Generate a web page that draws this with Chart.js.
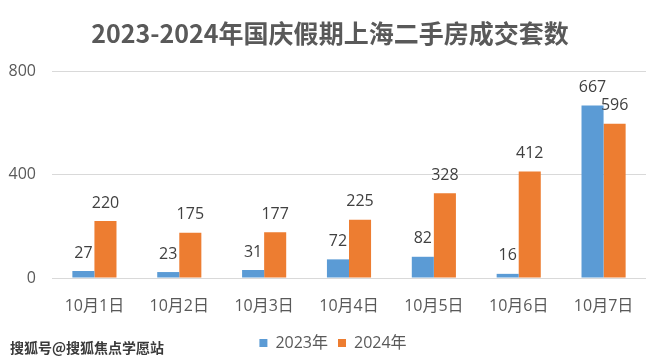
<!DOCTYPE html>
<html lang="zh-CN">
<head>
<meta charset="UTF-8">
<script src="https://cdn.jsdelivr.net/npm/chart.js@4/dist/chart.umd.min.js"></script>
<title>2023-2024年国庆假期上海二手房成交套数</title>
<style>
  html, body { margin: 0; padding: 0; background: #fff; }
  #wrap { position: relative; width: 660px; height: 361px; }
  #wm {
    position: absolute; left: 10px; top: 337px;
    font: bold 14px "Noto Sans CJK SC", sans-serif;
    color: #3a3a3a;
    text-shadow: 0 0 2px #fff, 0 0 2px #fff;
  }
</style>
</head>
<body>
<div id="wrap">
  <canvas id="myChart" width="660" height="361"></canvas>
  <div id="wm">搜狐号@搜狐焦点学愿站</div>
</div>
<script>
var days = ["10月1日", "10月2日", "10月3日", "10月4日", "10月5日", "10月6日", "10月7日"];
var y2023 = [27, 23, 31, 72, 82, 16, 667];
var y2024 = [220, 175, 177, 225, 328, 412, 596];
var yTicks = [0, 400, 800];

var fontFam = '"Open Sans", "Noto Sans CJK SC", sans-serif';

// values above the bars
var barLabels = {
  id: 'barLabels',
  afterLayout: function(chart) {
    // legend and title sit a bit right of centre in the original
    chart.legend.left += 10;
    chart.legend.right += 10;
    chart.titleBlock.left += 7;
    chart.titleBlock.right += 7;
  },
  afterDatasetsDraw: function(chart) {
    var ctx = chart.ctx;
    ctx.save();
    ctx.font = '16px ' + fontFam;
    ctx.fillStyle = '#404040';
    ctx.textAlign = 'center';
    ctx.textBaseline = 'middle';
    chart.data.datasets.forEach(function(ds, i) {
      var meta = chart.getDatasetMeta(i);
      meta.data.forEach(function(bar, j) {
        ctx.fillText(ds.data[j], bar.x, bar.y - 18);
      });
    });
    ctx.restore();
  }
};

var ctx = document.getElementById("myChart").getContext('2d');
var myChart = new Chart(ctx, {
  type: 'bar',
  data: {
    labels: days,
    datasets: [{
      label: '2023年',
      data: y2023,
      backgroundColor: '#5B9BD5'
    }, {
      label: '2024年',
      data: y2024,
      backgroundColor: '#ED7D31'
    }]
  },
  options: {
    responsive: false,
    animation: false,
    layout: { padding: { left: 0, right: 14, bottom: 0 } },
    datasets: { bar: { categoryPercentage: 0.52, barPercentage: 1.0 } },
    scales: {
      x: {
        grid: { display: false },
        border: { display: false },
        ticks: { color: '#595959', font: { size: 16, family: fontFam }, padding: 11 },
        afterFit: function(scale) { scale.height = 47; }
      },
      y: {
        min: 0, max: 800,
        afterBuildTicks: function(scale) {
          scale.ticks = yTicks.map(function(v) { return { value: v }; });
        },
        grid: { color: '#d9d9d9', drawTicks: false },
        border: { display: false },
        ticks: { color: '#595959', font: { size: 16, family: fontFam }, padding: 16 },
        afterFit: function(scale) { scale.width = 52; }
      }
    },
    plugins: {
      title: {
        display: true,
        text: '2023-2024年国庆假期上海二手房成交套数',
        color: '#595959',
        font: { size: 25, weight: 'bold', family: '"Noto Sans CJK SC", sans-serif' },
        padding: { top: 18, bottom: 23 }
      },
      legend: {
        position: 'bottom',
        labels: {
          color: '#595959',
          font: { size: 16, family: fontFam },
          boxWidth: 8, boxHeight: 8,
          padding: 10
        }
      },
      tooltip: { enabled: false }
    }
  },
  plugins: [barLabels]
});
</script>
</body>
</html>
